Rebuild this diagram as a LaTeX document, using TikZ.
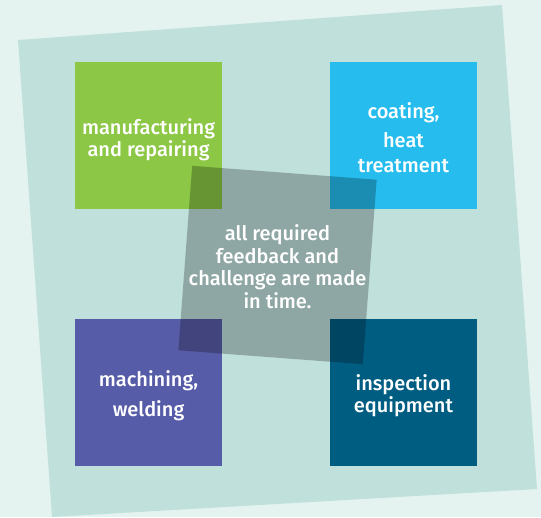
\documentclass[tikz,border=0pt]{standalone}
\usepackage{fontspec}
\setmainfont{Fira Sans}[UprightFont=* Medium]
\definecolor{paleback}{HTML}{E4F3F0}
\definecolor{sheet}{HTML}{C0E0DB}
\definecolor{leafgreen}{HTML}{8CC745}
\definecolor{skyblue}{HTML}{26BDEE}
\definecolor{slateviolet}{HTML}{575CA8}
\definecolor{deepteal}{HTML}{005D82}
\tikzset{
  tile/.style={minimum width=147pt, minimum height=147pt, inner sep=0pt, draw=none},
  tiletext/.style={text=white, align=center, inner sep=0pt, font=\fontsize{20}{22.5}\selectfont},
  core/.style={minimum size=185pt, inner sep=0pt, rotate=-4.3, fill=black, fill opacity=0.25, draw=none}
}
\begin{document}
\begin{tikzpicture}[x=1pt, y=-1pt]
                \fill[paleback] (0,0) rectangle (541,517);
                \useasboundingbox (0,0) rectangle (541,517);
                \fill[sheet] (18,40) -- (502,5) -- (537,489) -- (52,517) -- cycle;
                \node[tile, fill=leafgreen] (manuf) at (148.5,135.5) {};
                \node[tile, fill=skyblue] (coat) at (403.5,135.5) {};
                \node[tile, fill=slateviolet] (mach) at (148.5,392.5) {};
                \node[tile, fill=deepteal] (insp) at (403.5,392.5) {};
                \node[tiletext] (manuftext) at ([yshift=-4pt]manuf.center) {manufacturing\\and repairing};
                \node[tiletext] (coattext) at ([yshift=-2pt]coat.center) {coating,\\[6.5pt]heat\\[2.5pt]treatment};
                \node[tiletext] (machtext) at ([yshift=-3pt]mach.center) {machining,\\[7.5pt]welding};
                \node[tiletext] (insptext) at ([yshift=-3pt]insp.center) {inspection\\equipment};
                % translucent square across the middle
                \node[core] (hub) at (277.5,265) {};
                \node[tiletext] (hubtext) at ([yshift=-1.5pt]hub.center) {all required\\feedback and\\challenge are made\\in time.};
            \end{tikzpicture}
\end{document}
